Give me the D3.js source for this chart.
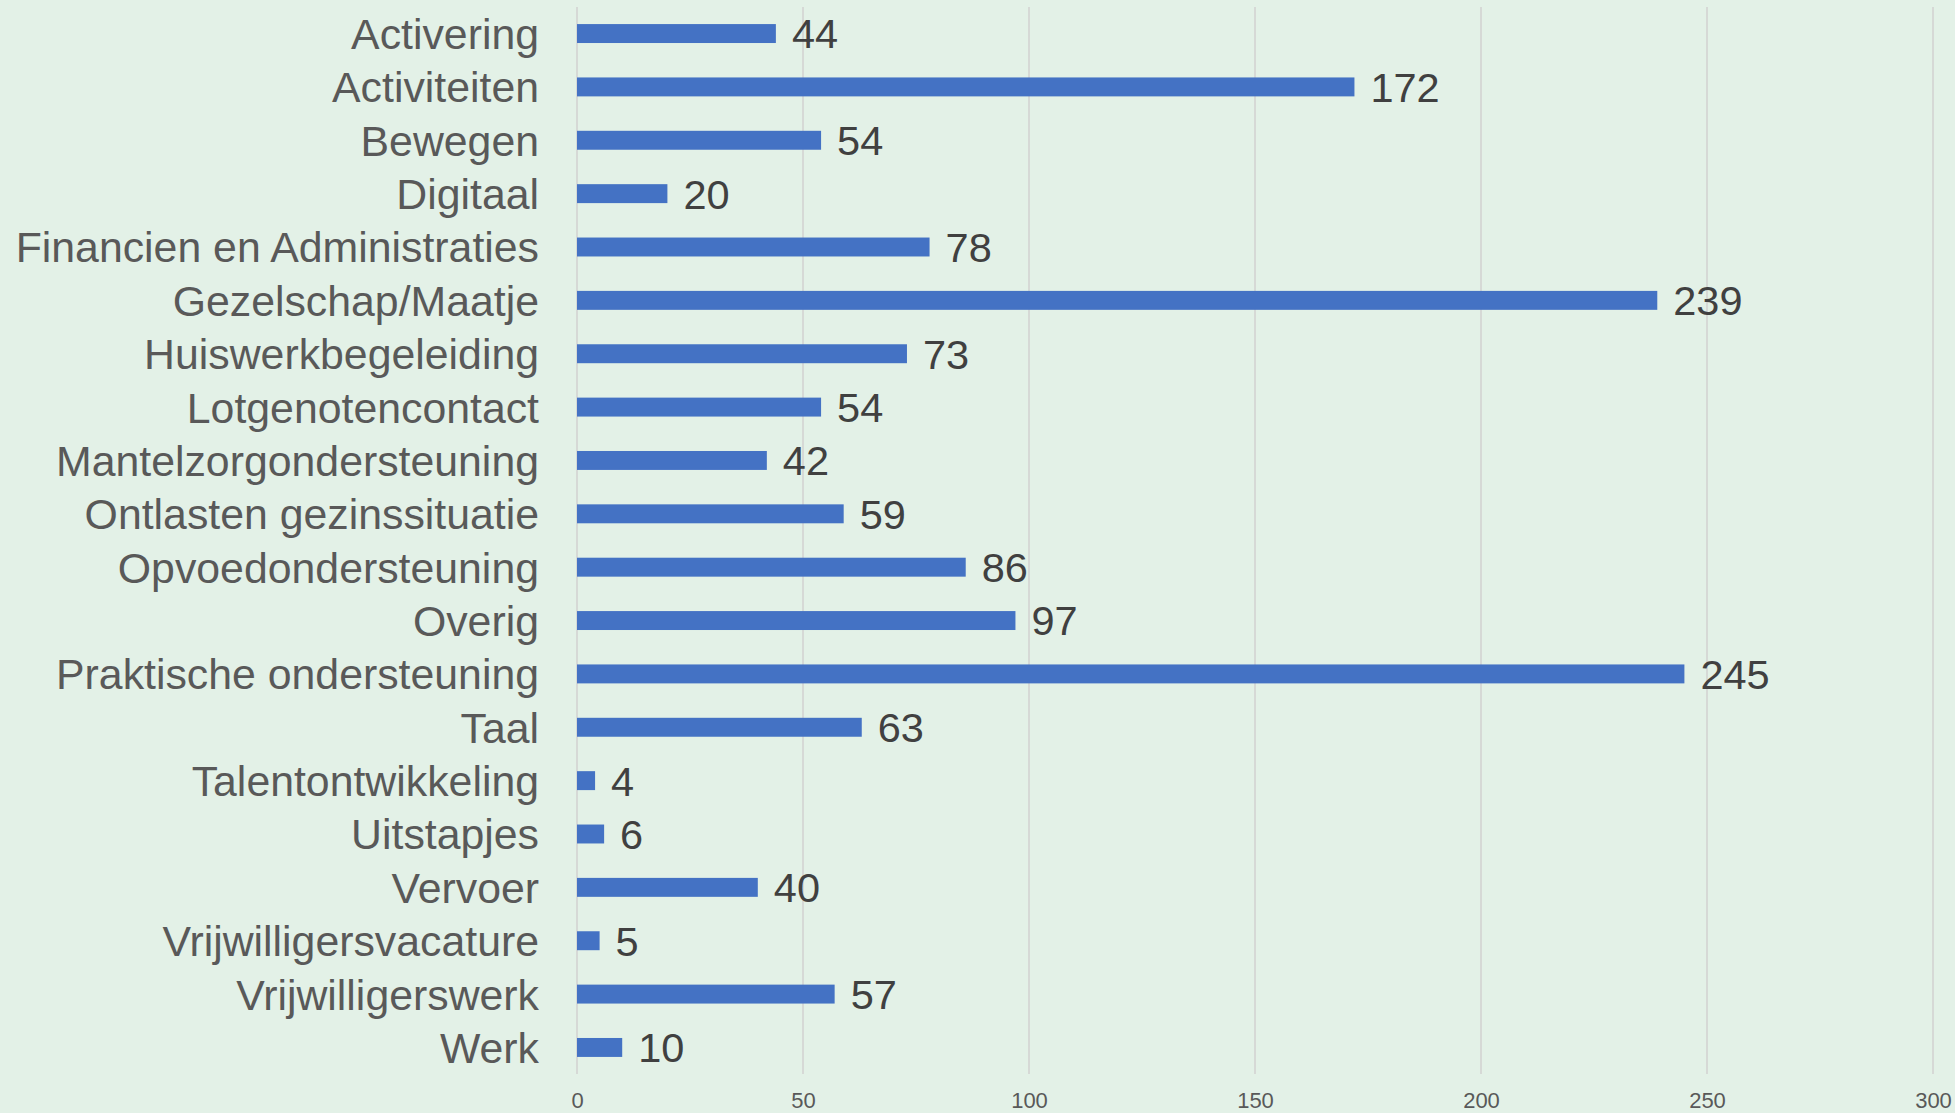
<!DOCTYPE html>
<html>
<head>
<meta charset="utf-8">
<script src="https://cdn.jsdelivr.net/npm/d3@7"></script>
<style>
  html, body { margin: 0; padding: 0; background: #e3f1e7; overflow: hidden; }
  svg { display: block; }
</style>
</head>
<body>
<svg id="chart"></svg>
<script>
// categories and counts, top to bottom
const categories = [
  "Activering", "Activiteiten", "Bewegen", "Digitaal", "Financien en Administraties",
  "Gezelschap/Maatje", "Huiswerkbegeleiding", "Lotgenotencontact", "Mantelzorgondersteuning",
  "Ontlasten gezinssituatie", "Opvoedondersteuning", "Overig", "Praktische ondersteuning",
  "Taal", "Talentontwikkeling", "Uitstapjes", "Vervoer", "Vrijwilligersvacature",
  "Vrijwilligerswerk", "Werk"
];
const counts = [44, 172, 54, 20, 78, 239, 73, 54, 42, 59, 86, 97, 245, 63, 4, 6, 40, 5, 57, 10];
const xTicks = [0, 50, 100, 150, 200, 250, 300];

const width = 1955, height = 1113;
const margin = { top: 7, right: 22, bottom: 39, left: 577 };

const svg = d3.select("#chart").attr("width", width).attr("height", height);
svg.append("rect").attr("width", width).attr("height", height).attr("fill", "#e3f1e7");

const data = categories.map((c, i) => ({ name: c, value: counts[i] }));

const x = d3.scaleLinear().domain([0, 300]).range([margin.left, width - margin.right]);
const y = d3.scaleBand().domain(categories).range([margin.top, height - margin.bottom]).paddingInner(0.645).paddingOuter(0.32);

// gridlines
svg.append("g")
  .selectAll("line")
  .data(xTicks)
  .join("line")
  .attr("x1", d => x(d)).attr("x2", d => x(d))
  .attr("y1", margin.top).attr("y2", height - margin.bottom)
  .attr("stroke", "#d6d9d6")
  .attr("stroke-width", 2);

// bars
svg.append("g")
  .selectAll("rect")
  .data(data)
  .join("rect")
  .attr("x", x(0))
  .attr("y", d => y(d.name))
  .attr("width", d => x(d.value) - x(0))
  .attr("height", y.bandwidth())
  .attr("fill", "#4472c4");

// value labels
svg.append("g")
  .selectAll("text")
  .data(data)
  .join("text")
  .attr("x", d => x(d.value) + 16)
  .attr("y", d => y(d.name) + y.bandwidth() / 2)
  .attr("dy", "0.36em")
  .attr("font-family", "'Liberation Sans', Arial, sans-serif")
  .attr("font-size", 41.5)
  .attr("fill", "#404040")
  .text(d => d.value);

// category axis labels
const yAxis = d3.axisLeft(y).tickSize(0).tickPadding(38);
const gy = svg.append("g").attr("transform", `translate(${margin.left},0)`).call(yAxis);
gy.select(".domain").remove();
gy.selectAll("text")
  .attr("font-family", "'Liberation Sans', Arial, sans-serif")
  .attr("font-size", 42.8)
  .attr("fill", "#595959")
  .attr("dy", "0.36em");

// value axis labels
const xAxis = d3.axisBottom(x).tickValues(xTicks).tickSize(0).tickPadding(0);
const gx = svg.append("g").attr("transform", `translate(0,${height - margin.bottom})`).call(xAxis);
gx.select(".domain").remove();
gx.selectAll("text")
  .attr("font-family", "'Liberation Sans Narrow', 'Liberation Sans', Arial, sans-serif")
  .attr("font-size", 22)
  .attr("fill", "#595959")
  .attr("dy", null)
  .attr("y", 34);
</script>
</body>
</html>
